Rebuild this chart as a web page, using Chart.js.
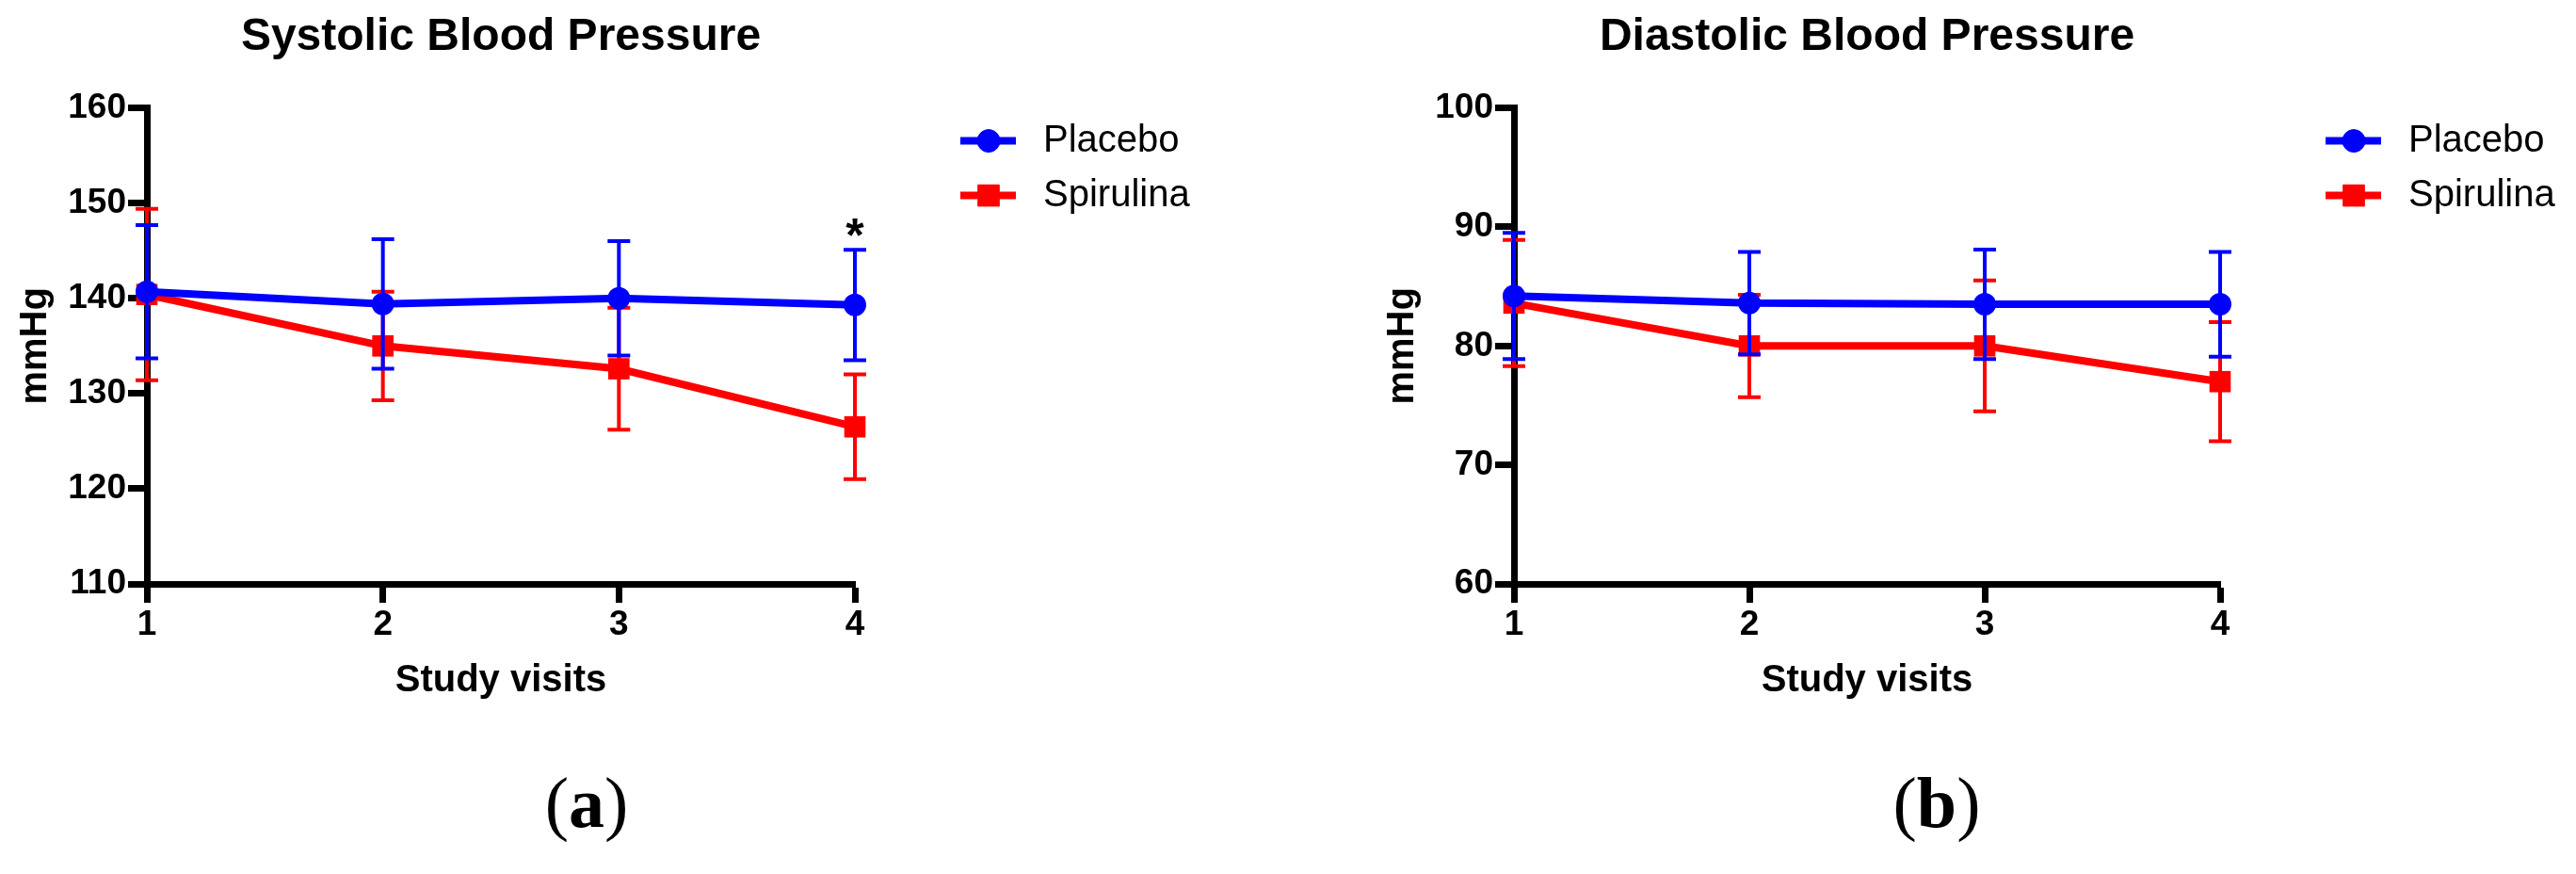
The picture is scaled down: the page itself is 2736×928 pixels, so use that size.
<!DOCTYPE html>
<html>
<head>
<meta charset="utf-8">
<title>Blood pressure</title>
<script src="https://cdn.jsdelivr.net/npm/chart.js@4.4.1/dist/chart.umd.min.js"></script>
<style>
  body { margin: 0; background: #fff; }
  #figure { position: relative; width: 2736px; height: 928px; }
  .panel { position: absolute; top: 0; width: 1368px; height: 928px; }
  .tag { position: absolute; top: 852px; transform: translate(-50%, -50%); font: 76px "Liberation Serif", "Times New Roman", serif; line-height: 1; color: #000; }
</style>
</head>
<body>
<div id="figure">
  <div class="panel" style="left:0"><canvas id="systolic-chart"></canvas></div>
  <div class="panel" style="left:1368px"><canvas id="diastolic-chart"></canvas></div>
  <div class="tag" style="left:623px">(<b>a</b>)</div>
  <div class="tag" style="left:2057px">(<b>b</b>)</div>
</div>
<script>
const visits = ['1', '2', '3', '4'];

// systolic, mean and SD per visit
const sysPlacebo = [140.7, 139.4, 140.0, 139.3];
const sysPlaceboSD = [7.0, 6.8, 6.0, 5.8];
const sysSpirulina = [140.4, 135.0, 132.6, 126.5];
const sysSpirulinaSD = [9.0, 5.7, 6.4, 5.5];
const sysTicks = [110, 120, 130, 140, 150, 160];
const sysSignif = ['', '', '', '*'];

// diastolic
const diaPlacebo = [84.2, 83.6, 83.5, 83.5];
const diaPlaceboSD = [5.3, 4.3, 4.6, 4.4];
const diaSpirulina = [83.6, 80.0, 80.0, 77.0];
const diaSpirulinaSD = [5.3, 4.3, 5.5, 5.0];
const diaTicks = [60, 70, 80, 90, 100];
const diaSignif = ['', '', '', ''];

const FONT = '"Liberation Sans", Arial, Helvetica, sans-serif';
const BLUE = '#0000ff';
const RED = '#ff0000';

// SD whiskers, drawn right after each dataset so they stack the same way
const errorBars = {
    id: 'errorBars',
    afterDatasetDraw(chart, args) {
        const ds = chart.data.datasets[args.index];
        if (!ds.sd) return;
        const ctx = chart.ctx;
        const y = chart.scales.y;
        ctx.save();
        ctx.strokeStyle = ds.borderColor;
        ctx.lineWidth = 4;
        args.meta.data.forEach((pt, i) => {
            const top = y.getPixelForValue(ds.data[i] + ds.sd[i]);
            const bot = y.getPixelForValue(ds.data[i] - ds.sd[i]);
            ctx.beginPath();
            ctx.moveTo(pt.x, top); ctx.lineTo(pt.x, bot);
            ctx.moveTo(pt.x - 12, top); ctx.lineTo(pt.x + 12, top);
            ctx.moveTo(pt.x - 12, bot); ctx.lineTo(pt.x + 12, bot);
            ctx.stroke();
        });
        ctx.restore();
    }
};

// significance mark above the highest whisker
const signif = {
    id: 'signif',
    afterDatasetsDraw(chart, args, opts) {
        const marks = opts.marks || [];
        const ctx = chart.ctx;
        const x = chart.scales.x, y = chart.scales.y;
        ctx.save();
        ctx.font = 'bold 50px ' + FONT;
        ctx.textAlign = 'center';
        ctx.textBaseline = 'alphabetic';
        ctx.fillStyle = '#000';
        marks.forEach((m, i) => {
            if (!m) return;
            const tops = chart.data.datasets.map(ds => ds.data[i] + (ds.sd ? ds.sd[i] : 0));
            ctx.fillText(m, x.getPixelForValue(i), y.getPixelForValue(Math.max(...tops)) + 2);
        });
        ctx.restore();
    }
};

// legend to the right: line with marker, then the name
const sideLegend = {
    id: 'sideLegend',
    afterDraw(chart) {
        const ctx = chart.ctx;
        const area = chart.chartArea;
        ctx.save();
        chart.data.datasets.forEach((ds, i) => {
            const y = area.top + 35 + i * 58;
            const x0 = area.right + 112;
            ctx.strokeStyle = ds.borderColor;
            ctx.fillStyle = ds.borderColor;
            ctx.lineWidth = 8;
            ctx.beginPath();
            ctx.moveTo(x0, y);
            ctx.lineTo(x0 + 59, y);
            ctx.stroke();
            ctx.lineWidth = 1;
            Chart.helpers.drawPoint(ctx, { pointStyle: ds.pointStyle, radius: ds.pointRadius, borderWidth: 1, rotation: 0 }, x0 + 30, y);
            ctx.fillStyle = '#000';
            ctx.font = '40px ' + FONT;
            ctx.textAlign = 'left';
            ctx.textBaseline = 'middle';
            ctx.fillText(ds.label, area.right + 200, y);
        });
        ctx.restore();
    }
};

function axisStyle() {
    return {
        grid: { drawOnChartArea: false, tickLength: 20, tickWidth: 7, tickColor: '#000' },
        border: { color: '#000', width: 7 },
        ticks: { color: '#000', padding: 2, maxRotation: 0, font: { family: FONT, size: 37, weight: 'bold' } }
    };
}

function makeChart(id, title, placebo, placeboSD, spirulina, spirulinaSD, ticks, marks, padLeft, padRight) {
    const ctx = document.getElementById(id).getContext('2d');
    return new Chart(ctx, {
        type: 'line',
        data: {
            labels: visits,
            datasets: [{
                label: 'Placebo',
                data: placebo,
                sd: placeboSD,
                borderColor: BLUE,
                backgroundColor: BLUE,
                borderWidth: 8,
                pointStyle: 'circle',
                pointRadius: 12,
                pointBorderWidth: 0,
                pointBackgroundColor: BLUE,
                clip: false
            }, {
                label: 'Spirulina',
                data: spirulina,
                sd: spirulinaSD,
                borderColor: RED,
                backgroundColor: RED,
                borderWidth: 8,
                pointStyle: 'rect',
                pointRadius: 16,
                pointBorderWidth: 0,
                pointBackgroundColor: RED,
                clip: false
            }]
        },
        options: {
            responsive: true,
            maintainAspectRatio: false,
            devicePixelRatio: 1,
            animation: false,
            events: [],
            layout: { padding: { left: padLeft, right: padRight, top: 0, bottom: 181 } },
            plugins: {
                legend: { display: false },
                tooltip: { enabled: false },
                title: {
                    display: true,
                    text: title,
                    fullSize: false,
                    color: '#000',
                    font: { family: FONT, size: 48, weight: 'bold' },
                    padding: { top: 11, bottom: 46 }
                },
                signif: { marks: marks }
            },
            scales: {
                x: Object.assign(axisStyle(), {
                    type: 'category',
                    offset: false,
                    title: { display: true, text: 'Study visits', color: '#000', padding: 0, font: { family: FONT, size: 40, weight: 'bold' } },
                    afterFit: s => { s.height = 127; }
                }),
                y: Object.assign(axisStyle(), {
                    min: ticks[0],
                    max: ticks[ticks.length - 1],
                    afterBuildTicks: s => { s.ticks = ticks.map(v => ({ value: v })); },
                    title: { display: true, text: 'mmHg', color: '#000', padding: { top: 14, bottom: 0 }, font: { family: FONT, size: 40, weight: 'bold' } },
                    afterFit: s => { s.width = 156; }
                })
            }
        },
        plugins: [errorBars, signif, sideLegend]
    });
}

makeChart('systolic-chart', 'Systolic Blood Pressure', sysPlacebo, sysPlaceboSD, sysSpirulina, sysSpirulinaSD, sysTicks, sysSignif, 0, 460);
makeChart('diastolic-chart', 'Diastolic Blood Pressure', diaPlacebo, diaPlaceboSD, diaSpirulina, diaSpirulinaSD, diaTicks, diaSignif, 84, 378);
</script>
</body>
</html>
